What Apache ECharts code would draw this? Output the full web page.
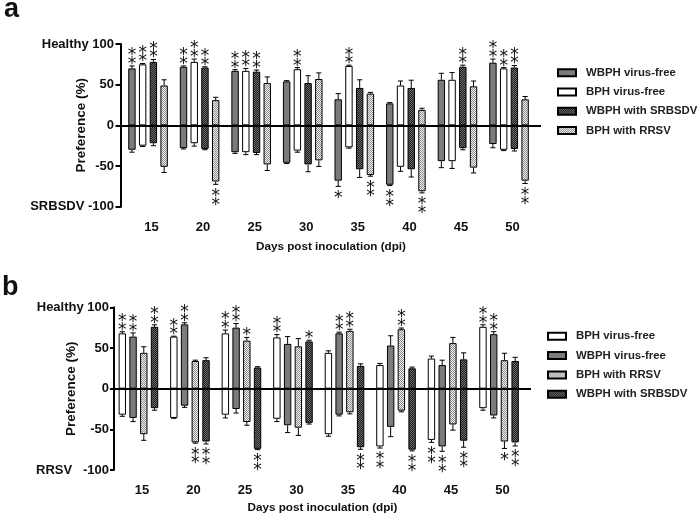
<!DOCTYPE html>
<html><head><meta charset="utf-8">
<script src="https://cdn.jsdelivr.net/npm/echarts@6/dist/echarts.min.js"></script>
<style>html,body{margin:0;padding:0;background:#fff}#c{width:697px;height:517px}</style>
</head><body><div id="c"></div>
<script>
// ---------- DATA ----------
const days = [15, 20, 25, 30, 35, 40, 45, 50];
const xAxisName = 'Days post inoculation (dpi)';
const yAxisName = 'Preference (%)';
const panelLetters = ['a', 'b'];
const yEndLabelsA = ['Healthy', 'SRBSDV'];
const yEndLabelsB = ['Healthy', 'RRSV'];
const legendA = ['WBPH virus-free', 'BPH virus-free', 'WBPH with SRBSDV', 'BPH with RRSV'];
const legendB = ['BPH virus-free', 'WBPH virus-free', 'BPH with RRSV', 'WBPH with SRBSDV'];

// Panel a (choice: healthy vs SRBSDV-infected)
const a_wbphFree_pos = [70, 72, 67, 54, 32, 27, 56, 77];
const a_wbphFree_neg = [-30, -28, -33, -46, -68, -73, -44, -23];
const a_wbphFree_se  = [3, 1, 1.5, 1, 7, 1, 8, 4.5];
const a_wbphFree_sig = [2, 2, 2, 0, -1, -2, 0, 2];

const a_bphFree_pos = [75, 78, 67, 69, 73, 49, 56, 70];
const a_bphFree_neg = [-25, -22, -33, -31, -27, -51, -44, -30];
const a_bphFree_se  = [1, 3.5, 3, 2, 1, 5.5, 9, 1];
const a_bphFree_sig = [2, 2, 2, 2, 2, 0, 0, 2];

const a_wbphSrbsdv_pos = [78, 71, 66, 52, 46, 46, 72, 71];
const a_wbphSrbsdv_neg = [-22, -29, -34, -48, -54, -54, -28, -29];
const a_wbphSrbsdv_se  = [3, 1, 2, 9, 10, 9.5, 2, 2.5];
const a_wbphSrbsdv_sig = [2, 2, 2, 0, 0, 0, 2, 2];

const a_bphRrsv_pos = [49, 31, 52, 57, 39, 19, 48, 32];
const a_bphRrsv_neg = [-51, -69, -48, -43, -61, -81, -52, -68];
const a_bphRrsv_se  = [7, 3.5, 7.5, 7.5, 1.5, 2, 6.5, 3.5];
const a_bphRrsv_sig = [0, -2, 0, 0, -2, -2, 0, -2];

// Panel b (choice: healthy vs RRSV-infected)
const b_bphFree_pos = [68, 64, 68, 63, 44, 29, 37, 76];
const b_bphFree_neg = [-32, -36, -32, -37, -56, -71, -63, -24];
const b_bphFree_se  = [2, 0.5, 4, 3.5, 2.5, 2, 3, 2.5];
const b_bphFree_sig = [2, 2, 2, 2, 0, -2, -2, 2];

const b_wbphFree_pos = [64, 79, 75, 55, 68, 53, 29, 67];
const b_wbphFree_neg = [-36, -21, -25, -45, -32, -47, -71, -33];
const b_wbphFree_se  = [4.5, 2, 5, 9, 1.5, 12, 6, 3];
const b_wbphFree_sig = [2, 2, 2, 0, 2, 0, -2, 2];

const b_bphRrsv_pos = [44, 34, 59, 52, 71, 73, 56, 35];
const b_bphRrsv_neg = [-56, -66, -41, -48, -29, -27, -44, -65];
const b_bphRrsv_se  = [7.5, 1, 4, 9.5, 2, 1.5, 7, 8.5];
const b_bphRrsv_sig = [0, -2, 1, 0, 2, 2, 0, -1];

const b_wbphSrbsdv_pos = [76, 35, 26, 58, 28, 25, 36, 34];
const b_wbphSrbsdv_neg = [-24, -65, -74, -42, -72, -75, -64, -66];
const b_wbphSrbsdv_se  = [2.5, 3, 1, 1.5, 2.5, 1.5, 8, 4.5];
const b_wbphSrbsdv_sig = [2, -2, -2, 1, -2, -2, -2, -2];

// ---------- STYLE ----------
const FF = '"Liberation Sans", Arial, sans-serif';
const BAR_W = 7.4;
const GAP_RATIO = 0.45;
const SLOT_PX = BAR_W * (1 + GAP_RATIO);
const CAP = 2.6;

function pattern(c1, c2) {
  const cv = document.createElement('canvas');
  cv.width = 2; cv.height = 2;
  const ctx = cv.getContext('2d');
  ctx.fillStyle = c1; ctx.fillRect(0, 0, 2, 2);
  ctx.fillStyle = c2; ctx.fillRect(0, 0, 1, 1); ctx.fillRect(1, 1, 1, 1);
  return { image: cv, repeat: 'repeat' };
}
const styles = {
  'WBPH virus-free': { color: '#7b7b7b', borderColor: '#000', borderWidth: 1 },
  'BPH virus-free': { color: '#ffffff', borderColor: '#000', borderWidth: 1 },
  'WBPH with SRBSDV': { color: pattern('#1c1c1c', '#6e6e6e'), borderColor: '#000', borderWidth: 1 },
  'BPH with RRSV': { color: pattern('#f2f2f2', '#8c8c8c'), borderColor: '#000', borderWidth: 1 }
};

const series = [];
function addGroup(panel, name, pos, neg, se, sig, slot) {
  const stack = 'p' + panel + 's' + slot;
  const base = {
    type: 'bar', name, xAxisIndex: panel, yAxisIndex: panel, stack,
    barWidth: BAR_W, barGap: (GAP_RATIO * 100) + '%',
    itemStyle: styles[name], emphasis: { disabled: true }, silent: true
  };
  const posS = Object.assign({}, base, { data: days.map((d, i) => [d, pos[i]]) });
  if (slot === 0) {
    posS.markLine = {
      silent: true, symbol: 'none', label: { show: false },
      lineStyle: { color: '#000', width: 2, type: 'solid' },
      data: [{ yAxis: 0 }], z: 10
    };
  }
  series.push(posS);
  series.push(Object.assign({}, base, { data: days.map((d, i) => [d, neg[i]]) }));
  series.push({
    type: 'custom', xAxisIndex: panel, yAxisIndex: panel, silent: true, z: 5,
    data: days.map((d, i) => [d, pos[i], neg[i], se[i], sig[i]]),
    encode: { x: 0, y: 1 },
    renderItem: function (params, api) {
      const d = api.value(0), p = api.value(1), n = api.value(2), s = api.value(3), g = api.value(4);
      const cx = api.coord([d, 0])[0] + (slot - 1.5) * SLOT_PX;
      const yT = api.coord([d, p])[1], yTE = api.coord([d, p + s])[1];
      const yB = api.coord([d, n])[1], yBE = api.coord([d, n - s])[1];
      const ls = { stroke: '#000', lineWidth: 1 };
      const ch = [
        { type: 'line', shape: { x1: cx, y1: yT, x2: cx, y2: yTE }, style: ls },
        { type: 'line', shape: { x1: cx - CAP, y1: yTE, x2: cx + CAP, y2: yTE }, style: ls },
        { type: 'line', shape: { x1: cx, y1: yB, x2: cx, y2: yBE }, style: ls },
        { type: 'line', shape: { x1: cx - CAP, y1: yBE, x2: cx + CAP, y2: yBE }, style: ls }
      ];
      const cnt = Math.abs(g);
      for (let k = 0; k < cnt; k++) {
        const yc = g > 0 ? (yTE - 5.5 - k * 8.5) : (yBE + 8 + k * 8.8);
        ch.push({
          type: 'text', x: cx, y: yc + 4,
          style: { text: '*', fill: '#111', font: '17px "DejaVu Sans", sans-serif', align: 'center', verticalAlign: 'middle' }
        });
      }
      return { type: 'group', children: ch };
    }
  });
}

addGroup(0, 'WBPH virus-free', a_wbphFree_pos, a_wbphFree_neg, a_wbphFree_se, a_wbphFree_sig, 0);
addGroup(0, 'BPH virus-free', a_bphFree_pos, a_bphFree_neg, a_bphFree_se, a_bphFree_sig, 1);
addGroup(0, 'WBPH with SRBSDV', a_wbphSrbsdv_pos, a_wbphSrbsdv_neg, a_wbphSrbsdv_se, a_wbphSrbsdv_sig, 2);
addGroup(0, 'BPH with RRSV', a_bphRrsv_pos, a_bphRrsv_neg, a_bphRrsv_se, a_bphRrsv_sig, 3);

addGroup(1, 'BPH virus-free', b_bphFree_pos, b_bphFree_neg, b_bphFree_se, b_bphFree_sig, 0);
addGroup(1, 'WBPH virus-free', b_wbphFree_pos, b_wbphFree_neg, b_wbphFree_se, b_wbphFree_sig, 1);
addGroup(1, 'BPH with RRSV', b_bphRrsv_pos, b_bphRrsv_neg, b_bphRrsv_se, b_bphRrsv_sig, 2);
addGroup(1, 'WBPH with SRBSDV', b_wbphSrbsdv_pos, b_wbphSrbsdv_neg, b_wbphSrbsdv_se, b_wbphSrbsdv_sig, 3);

const boldText = { fontFamily: FF, fontWeight: 'bold', color: '#111' };

function xAxis(gi, min, max, margin, nameGap) {
  return {
    type: 'value', gridIndex: gi, min, max,
    axisLine: { show: false, onZero: false }, axisTick: { show: false }, splitLine: { show: false },
    axisLabel: Object.assign({ customValues: days, fontSize: 13, margin, padding: [0, 0, 0, 7] }, boldText),
    name: xAxisName, nameLocation: 'middle', nameGap, nameMoveOverlap: false,
    nameTextStyle: Object.assign({ fontSize: 11.7 }, boldText)
  };
}
function yAxis(gi, ends, margin, nameGap, tickLen) {
  return {
    type: 'value', gridIndex: gi, min: -100, max: 100, interval: 50,
    axisLine: { show: true, onZero: false, lineStyle: { color: '#000', width: 2 } },
    axisTick: { show: true, length: tickLen, lineStyle: { color: '#000', width: 2 } },
    splitLine: { show: false },
    axisLabel: Object.assign({
      fontSize: 13, margin,
      formatter: v => v === 100 ? ends[0] + ' 100' : v === -100 ? ends[1] + (gi === 1 ? '   ' : ' ') + '-100' : String(v)
    }, boldText),
    name: yAxisName, nameLocation: 'middle', nameGap, nameMoveOverlap: false,
    nameTextStyle: Object.assign({ fontSize: 13.5 }, boldText)
  };
}
function legend(data, left, top) {
  return {
    orient: 'vertical', left, top, padding: 0, itemWidth: 18, itemHeight: 7, itemGap: 5.3,
    icon: 'rect', data, selectedMode: false,
    textStyle: { fontSize: 11.4, lineHeight: 14, padding: [0, 0, 0, 5], color: '#222', fontFamily: FF, fontWeight: 'bold' }
  };
}

const chart = echarts.init(document.getElementById('c'), null, { renderer: 'canvas' });
chart.setOption({
  animation: false,
  backgroundColor: '#fff',
  grid: [
    { left: 121, top: 44, width: 420, height: 162.7 },
    { left: 114, top: 307.3, width: 417, height: 162.7 }
  ],
  xAxis: [xAxis(0, 12.38, 53.1, 14, 34), xAxis(1, 12.63, 53.1, 13.5, 32)],
  yAxis: [yAxis(0, yEndLabelsA, 7, 33, 5.5), yAxis(1, yEndLabelsB, 5, 36, 4)],
  legend: [legend(legendA, 557, 65.7), legend(legendB, 547, 329.3)],
  graphic: [
    { type: 'text', left: 4, top: -4, style: { text: panelLetters[0], font: 'bold 27px ' + FF, fill: '#111' } },
    { type: 'text', left: 2, top: 274, style: { text: panelLetters[1], font: 'bold 27px ' + FF, fill: '#111' } }
  ],
  series
});
</script>
</body></html>
